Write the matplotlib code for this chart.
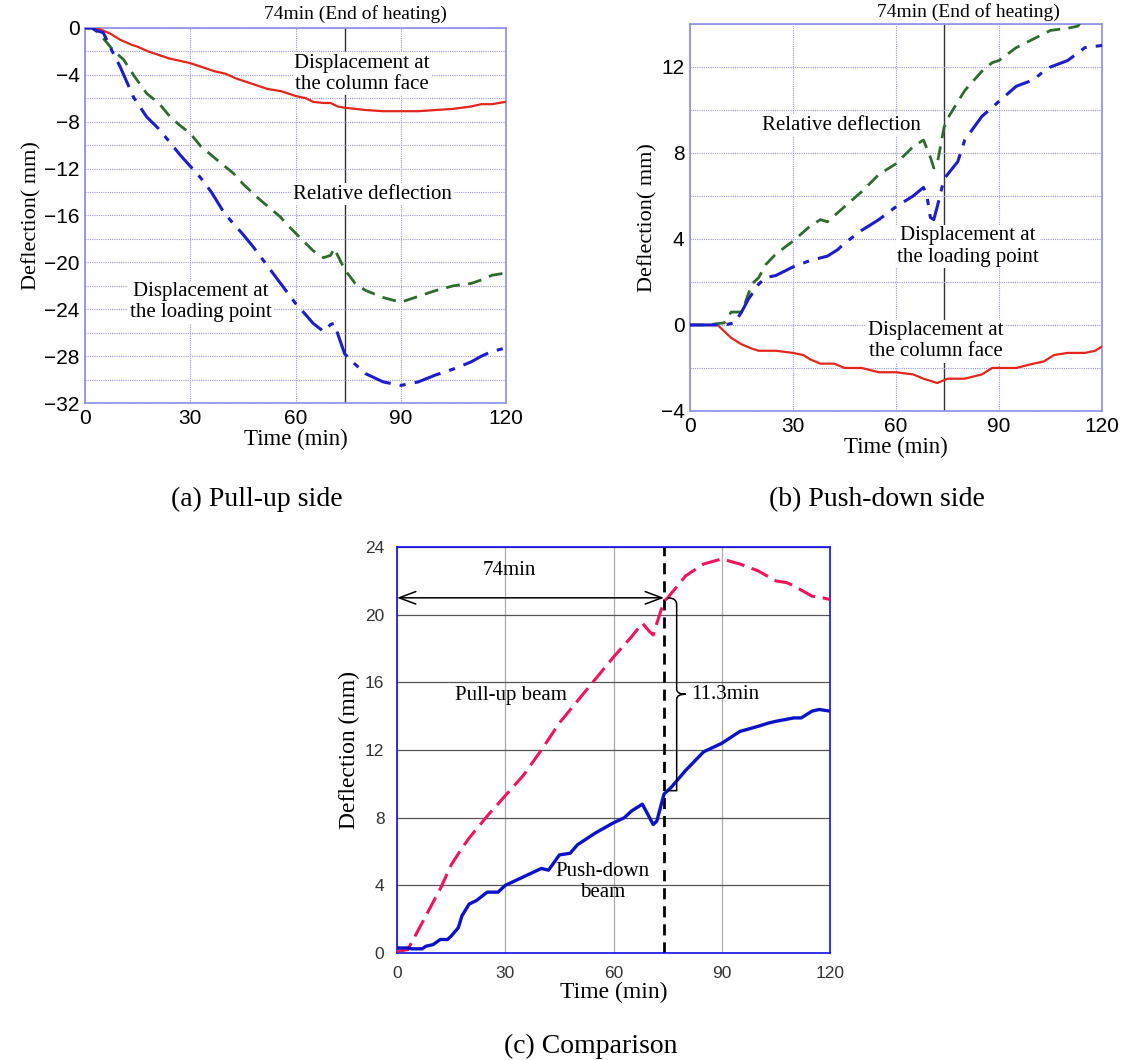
import numpy as np
import matplotlib
matplotlib.use("Agg")
import matplotlib.pyplot as plt
from matplotlib.path import Path
from matplotlib.patches import PathPatch

SERIF = "Liberation Serif"
SANS = "Liberation Sans"

# (a) pull-up side
t_red_a = [0, 2, 3, 5, 7, 10, 13, 15, 18, 21, 24, 27, 30, 33, 37, 40, 43, 46, 49, 52, 56, 60, 63, 65, 68, 70, 72, 74, 77, 80, 85, 90, 95, 100, 105, 110, 113, 116, 120]
red_a = [0, 0, 0, -0.2, -0.45, -1.0, -1.4, -1.6, -2.0, -2.3, -2.6, -2.8, -3.0, -3.3, -3.7, -3.9, -4.3, -4.6, -4.9, -5.2, -5.4, -5.8, -6.0, -6.3, -6.4, -6.4, -6.7, -6.8, -6.9, -7.0, -7.1, -7.1, -7.1, -7.0, -6.9, -6.7, -6.5, -6.5, -6.3]
t_grn_a = [0, 2, 3, 5, 8, 11, 14, 17.6, 21, 24.3, 27, 30, 33, 36.6, 39, 42.3, 45, 48.9, 52, 55.6, 58, 60, 63, 65, 68, 70, 71, 74, 77, 80, 85, 90, 95, 100, 105, 110, 113, 116, 120]
grn_a = [0, 0, -0.2, -0.8, -1.9, -2.7, -4.1, -5.6, -6.4, -7.6, -8.3, -9.0, -10.1, -11.0, -11.6, -12.4, -13.3, -14.4, -15.2, -16.1, -16.9, -17.5, -18.4, -19.0, -19.6, -19.4, -18.8, -20.6, -21.8, -22.4, -23.0, -23.4, -22.9, -22.4, -22.0, -21.8, -21.5, -21.1, -20.9]
t_blu_a = [0, 2, 3, 5.2, 8.1, 10, 13.8, 17.6, 21, 24.3, 27, 30, 33, 36, 39.5, 42, 45, 48, 50, 53, 56, 60, 63, 65, 68, 70, 71, 74, 77, 80, 85, 90, 95, 100, 105, 110, 113, 116, 120]
blu_a = [0, 0, -0.2, -0.4, -2.2, -3.3, -5.9, -7.6, -8.6, -9.8, -10.8, -11.8, -12.8, -14.0, -15.7, -16.6, -17.6, -18.7, -19.5, -20.7, -21.9, -23.5, -24.5, -25.2, -25.9, -25.3, -25.2, -27.8, -28.7, -29.5, -30.2, -30.5, -30.2, -29.6, -29.1, -28.5, -28.0, -27.6, -27.3]

# (b) push-down side
t_red_b = [0, 5, 8, 10, 12, 13, 15, 18, 20, 25, 30, 33, 35, 38, 42, 45, 50, 55, 60, 65, 68, 70, 72, 75, 80, 85, 88, 95, 100, 103, 106, 110, 115, 118, 120]
red_b = [0, 0, 0, -0.3, -0.6, -0.7, -0.9, -1.1, -1.2, -1.2, -1.3, -1.4, -1.6, -1.8, -1.8, -2.0, -2.0, -2.2, -2.2, -2.3, -2.5, -2.6, -2.7, -2.5, -2.5, -2.3, -2.0, -2.0, -1.8, -1.7, -1.4, -1.3, -1.3, -1.2, -1.0]
t_grn_b = [0, 5, 10, 12, 15, 16, 18, 20, 22, 25, 30, 35, 38, 40, 45, 50, 55, 60, 65, 68, 70, 71, 72, 74, 75, 80, 85, 88, 90, 95, 100, 105, 110, 113, 114.5]
grn_b = [0, 0, 0.1, 0.6, 0.6, 1.0, 1.9, 2.2, 2.8, 3.3, 3.9, 4.6, 4.9, 4.8, 5.5, 6.2, 7.0, 7.5, 8.3, 8.6, 7.8, 7.3, 7.5, 9.2, 9.6, 10.9, 11.8, 12.2, 12.3, 12.9, 13.3, 13.7, 13.8, 13.9, 14.3]
t_blu_b = [0, 5, 10, 13, 15, 17, 20, 22, 25, 30, 35, 40, 43, 45, 50, 55, 60, 65, 68, 69, 70, 71, 72, 74, 75, 78, 80, 85, 90, 95, 100, 103, 105, 110, 115, 120]
blu_b = [0, 0, 0, 0.1, 0.6, 1.2, 1.9, 2.2, 2.3, 2.7, 3.0, 3.2, 3.5, 3.8, 4.4, 4.9, 5.5, 6.0, 6.4, 6.0, 5.0, 4.9, 5.5, 6.8, 7.0, 7.6, 8.6, 9.7, 10.4, 11.1, 11.4, 11.8, 12.0, 12.3, 12.9, 13.0]

# (c) comparison
t_pull = [0, 3, 5, 8, 10, 12, 15, 18, 20, 25, 30, 35, 40, 45, 50, 55, 60, 65, 68, 70, 71, 72, 74, 75, 80, 85, 90, 95, 100, 105, 108, 110, 115, 118, 120]
pull = [0.1, 0.2, 1.0, 2.2, 3.0, 3.8, 5.2, 6.2, 6.8, 8.1, 9.3, 10.5, 12.0, 13.6, 14.9, 16.2, 17.5, 18.7, 19.5, 19.0, 18.8, 19.5, 20.8, 21.0, 22.3, 23.0, 23.3, 23.0, 22.6, 22.0, 21.9, 21.7, 21.1, 21.0, 20.9]
t_push = [0, 3, 4, 7, 8, 10, 12, 14, 15, 17, 18, 20, 22, 25, 28, 30, 35, 38, 40, 42, 45, 48, 50, 55, 60, 63, 65, 68, 70, 71, 72, 74, 76, 80, 85, 88, 90, 95, 100, 103, 105, 110, 112, 115, 117, 120]
push = [0.3, 0.3, 0.25, 0.25, 0.4, 0.5, 0.8, 0.8, 1.0, 1.5, 2.2, 2.9, 3.1, 3.6, 3.6, 4.0, 4.5, 4.8, 5.0, 4.9, 5.8, 5.9, 6.4, 7.1, 7.7, 8.0, 8.4, 8.8, 8.0, 7.6, 7.8, 9.4, 9.8, 10.8, 11.9, 12.2, 12.4, 13.1, 13.4, 13.6, 13.7, 13.9, 13.9, 14.3, 14.4, 14.3]

heat_end = 74
xticks = [0, 30, 60, 90, 120]

fig = plt.figure(figsize=(11.31, 10.6), dpi=100)

frame_ab = "#8c8ce6"
grid_ab = "#9a9ae0"


def style_top(ax, ylim, yticks):
    ax.set_xlim(0, 120)
    ax.set_ylim(*ylim)
    ax.set_xticks(xticks)
    ax.set_yticks(yticks)
    ax.set_yticks(np.arange(ylim[0], ylim[1] + 0.1, 2), minor=True)
    ax.tick_params(which="both", length=0, labelsize=15, pad=4)
    for lab in ax.get_xticklabels() + ax.get_yticklabels():
        lab.set_fontfamily(SANS)
    ax.grid(which="both", axis="y", color=grid_ab, linestyle=(0, (1, 1)), linewidth=0.8)
    ax.grid(which="major", axis="x", color=grid_ab, linestyle=(0, (1, 1)), linewidth=0.8)
    for s in ax.spines.values():
        s.set_color(frame_ab)
        s.set_linewidth(1.2)
    ax.axvline(heat_end, color="#333333", linewidth=1.0, zorder=1.5)
    ax.set_xlabel("Time (min)", fontfamily=SERIF, fontsize=16.5, labelpad=1)
    ax.set_ylabel("Deflection( mm)", fontfamily=SERIF, fontsize=16, labelpad=2)


box = dict(facecolor="white", edgecolor="none", pad=1.0)
tkw = dict(fontfamily=SERIF, fontsize=15, bbox=box, zorder=2)

# ---- (a)
ax1 = fig.add_axes([0.0752, 0.6198, 0.3722, 0.3538])
style_top(ax1, (-32, 0), [0, -4, -8, -12, -16, -20, -24, -28, -32])
ax1.plot(t_red_a, red_a, color="#e3261c", linewidth=1.6, zorder=3)
ax1.plot(t_grn_a, grn_a, color="#2f6b2f", linewidth=2.0, dashes=(5, 3), zorder=3)
ax1.plot(t_blu_a, blu_a, color="#1d1dcc", linewidth=2.2, dashes=(9, 3, 2, 3), zorder=3)
ax1.text(79, -3.9, "Displacement at\nthe column face", ha="center", va="center", linespacing=1.15, **tkw)
ax1.text(82, -14.2, "Relative deflection", ha="center", va="center", **tkw)
ax1.text(33, -23.4, "Displacement at\nthe loading point", ha="center", va="center", linespacing=1.15, **tkw)
ax1.text(77, 0.45, "74min (End of heating)", ha="center", va="bottom", fontfamily=SERIF, fontsize=14)

# ---- (b)
ax2 = fig.add_axes([0.6101, 0.6123, 0.3643, 0.3651])
style_top(ax2, (-4, 14), [-4, 0, 4, 8, 12])
ax2.plot(t_red_b, red_b, color="#e3261c", linewidth=1.6, zorder=3)
ax2.plot(t_grn_b, grn_b, color="#2f6b2f", linewidth=2.0, dashes=(5, 3), zorder=3)
ax2.plot(t_blu_b, blu_b, color="#1d1dcc", linewidth=2.2, dashes=(9, 3, 2, 3), zorder=3)
ax2.text(44, 9.3, "Relative deflection", ha="center", va="center", **tkw)
ax2.text(81, 3.65, "Displacement at\nthe loading point", ha="center", va="center", linespacing=1.15, **tkw)
ax2.text(71.5, -0.75, "Displacement at\nthe column face", ha="center", va="center", linespacing=1.15, **tkw)
ax2.text(81, 14.15, "74min (End of heating)", ha="center", va="bottom", fontfamily=SERIF, fontsize=14)

# ---- (c)
ax3 = fig.add_axes([0.3510, 0.1009, 0.3829, 0.3830])
ax3.set_xlim(0, 120)
ax3.set_ylim(0, 24)
ax3.set_xticks(xticks)
ax3.set_yticks([0, 4, 8, 12, 16, 20, 24])
ax3.tick_params(length=0, labelsize=12.5, labelcolor="#333333", pad=9)
for lab in ax3.get_xticklabels() + ax3.get_yticklabels():
    lab.set_fontfamily(SANS)
ax3.grid(axis="y", color="#555555", linewidth=0.9)
ax3.grid(axis="x", color="#aaaaaa", linewidth=0.9)
for s in ax3.spines.values():
    s.set_color("#1010ee")
    s.set_linewidth(1.2)
ax3.plot(t_pull, pull, color="#f0145a", linewidth=2.2, dashes=(6, 2.5), zorder=3)
ax3.plot(t_push, push, color="#0c12c8", linewidth=2.4, zorder=3)
ax3.axvline(heat_end, color="black", linewidth=2.0, dashes=(4, 2.5), zorder=2)
ax3.annotate("", xy=(0, 21), xytext=(heat_end, 21),
             arrowprops=dict(arrowstyle="<->,head_length=1.2,head_width=0.45", lw=1.1, color="black",
                             shrinkA=0, shrinkB=0))
ax3.text(31, 22.6, "74min", ha="center", va="center", fontfamily=SERIF, fontsize=15)
# curly brace between the two curves at 74 min
xb, xm, xp = 75.0, 77.5, 80.0
y0, y1 = 9.6, 21.0
ym = 15.3
verts = [(xb, y1), (xm, y1), (xm, y1 - 0.4), (xm, y1 - 0.6),
         (xm, ym + 0.3), (xm, ym), (xp, ym),
         (xm, ym), (xm, ym - 0.3),
         (xm, y0 + 0.6), (xm, y0 + 0.4), (xm, y0), (xb, y0)]
codes = [Path.MOVETO, Path.CURVE3, Path.CURVE3, Path.LINETO,
         Path.LINETO, Path.CURVE3, Path.CURVE3,
         Path.CURVE3, Path.CURVE3,
         Path.LINETO, Path.CURVE3, Path.CURVE3, Path.LINETO]
ax3.add_patch(PathPatch(Path(verts, codes), facecolor="none", edgecolor="black", lw=1.1, zorder=4))
ax3.text(81.5, 15.3, "11.3min", ha="left", va="center", fontfamily=SERIF, fontsize=15)
ax3.text(31.5, 15.2, "Pull-up beam", ha="center", va="center", fontfamily=SERIF, fontsize=15)
ax3.text(57, 4.2, "Push-down\nbeam", ha="center", va="center", fontfamily=SERIF, fontsize=15, linespacing=1.2)
ax3.set_xlabel("Time (min)", fontfamily=SERIF, fontsize=17, labelpad=1)
ax3.set_ylabel("Deflection (mm)", fontfamily=SERIF, fontsize=17, labelpad=4)

fig.text(0.227, 0.529, "(a) Pull-up side", ha="center", va="center", fontfamily=SERIF, fontsize=20)
fig.text(0.775, 0.529, "(b) Push-down side", ha="center", va="center", fontfamily=SERIF, fontsize=20)
fig.text(0.522, 0.013, "(c) Comparison", ha="center", va="center", fontfamily=SERIF, fontsize=20)

fig.savefig("out.png", dpi=100, facecolor="white")
